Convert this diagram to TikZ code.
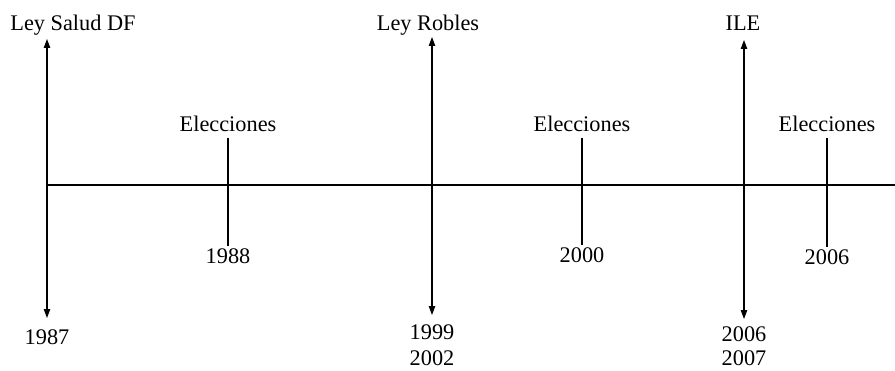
\documentclass[tikz,border=0pt]{standalone}
\usepackage{fontspec}
\setmainfont{Liberation Serif}
\usetikzlibrary{arrows.meta, positioning}

\begin{document}
\begin{tikzpicture}[
  x=0.02cm, y=-0.02cm,
  lbl/.style={anchor=base, inner sep=0pt, font=\fontsize{12.7}{16}\selectfont},
  evtarrow/.style={line width=0.6pt, {Triangle[length=5pt,width=3.6pt]}-{Triangle[length=5pt,width=3.6pt]}},
  elecline/.style={line width=0.6pt, shorten <=3.4pt, shorten >=1pt}
]
  \useasboundingbox (0,0) rectangle (895,370);

  % eje
  \coordinate (ax0) at (46,185);
  \coordinate (ax1) at (895,185);
  \draw[line width=0.6pt] (ax0) -- (ax1);

  % leyes
  \node[lbl] (leysalud) at (73,30) {Ley Salud DF};
  \node[lbl] (leyrobles) at (428,30) {Ley Robles};
  \node[lbl] (ile) at (743,30) {ILE};
  \node[lbl] (a1987) at (47,344) {1987};
  \node[lbl] (a1999) at (432,339) {1999};
  \node[lbl] (a2002) at (432,365) {2002};
  \node[lbl] (a2006a) at (744,341) {2006};
  \node[lbl] (a2007) at (744,365) {2007};

  \coordinate (ls-top) at (47,39);
  \coordinate (ls-bot) at (47,318);
  \coordinate (lr-top) at (432,37);
  \coordinate (lr-bot) at (432,315);
  \coordinate (ile-top) at (744,40);
  \coordinate (ile-bot) at (744,319);
  \draw[evtarrow] (ls-top) -- (ls-bot);
  \draw[evtarrow] (lr-top) -- (lr-bot);
  \draw[evtarrow] (ile-top) -- (ile-bot);

  % elecciones
  \node[lbl] (elec1) at (228,131) {Elecciones};
  \node[lbl] (elec2) at (582,131) {Elecciones};
  \node[lbl] (elec3) at (827,131) {Elecciones};
  \node[lbl] (a1988) at (228,263) {1988};
  \node[lbl] (a2000) at (582,262) {2000};
  \node[lbl] (a2006b) at (827,264) {2006};
  \draw[elecline] (elec1.south) -- (a1988.north);
  \draw[elecline] (elec2.south) -- (a2000.north);
  \draw[elecline] (elec3.south) -- (a2006b.north);
\end{tikzpicture}
\end{document}
